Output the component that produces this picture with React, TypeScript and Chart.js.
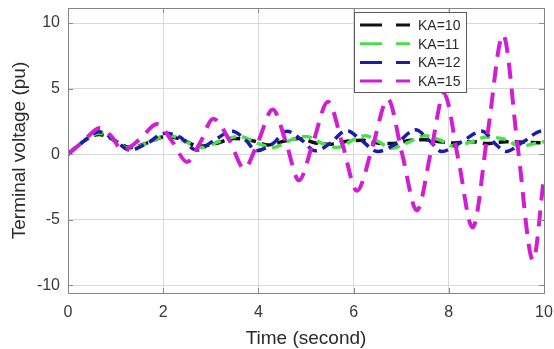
import React, { useEffect, useRef } from "react";
import { Chart, registerables } from "chart.js";
Chart.register(...registerables);

// ---- data ----
const seriesLabels = ["KA=10", "KA=11", "KA=12", "KA=15"];
const seriesColors = ["#111111", "#4cdc4c", "#1c1ca8", "#d21ed2"];

const timeKA10 = [0, 0.3, 0.65, 1.0, 1.3, 1.7, 2.05, 2.4, 2.75, 3.1, 3.5, 3.9, 4.2, 4.55, 4.85, 5.2, 5.5, 5.9, 6.2, 6.5, 6.8, 7.2, 7.5, 7.8, 8.1, 8.5, 8.8, 9.2, 9.6, 10];
const voltKA10 = [0, 0.9, 1.5, 1.0, 0.5, 0.9, 1.35, 1.1, 0.6, 0.8, 1.2, 1.0, 0.7, 1.0, 1.2, 0.85, 0.75, 1.0, 1.05, 0.85, 0.8, 1.05, 1.1, 0.95, 0.85, 0.95, 0.8, 0.95, 0.9, 0.85];

const timeKA11 = [0, 0.3, 0.65, 1.0, 1.3, 1.7, 2.1, 2.5, 2.8, 3.2, 3.6, 4.0, 4.3, 4.7, 5.0, 5.35, 5.65, 6.0, 6.25, 6.5, 6.8, 7.15, 7.5, 7.8, 8.1, 8.45, 8.8, 9.2, 9.5, 9.8, 10];
const voltKA11 = [0, 0.9, 1.6, 1.0, 0.4, 0.9, 1.45, 0.9, 0.5, 1.0, 1.35, 0.8, 0.5, 1.1, 1.35, 0.8, 0.5, 1.1, 1.4, 1.0, 0.45, 0.9, 1.4, 1.1, 0.6, 0.9, 1.3, 1.1, 0.6, 0.8, 0.95];

const timeKA12 = [0, 0.3, 0.65, 1.0, 1.3, 1.65, 2.05, 2.35, 2.7, 3.05, 3.45, 3.75, 3.95, 4.3, 4.6, 4.9, 5.2, 5.5, 5.85, 6.15, 6.5, 6.9, 7.3, 7.6, 7.85, 8.25, 8.7, 9.0, 9.2, 9.55, 9.95, 10];
const voltKA12 = [0, 0.9, 1.7, 1.0, 0.3, 0.8, 1.6, 1.3, 0.3, 1.0, 1.75, 1.0, 0.25, 0.8, 1.75, 1.1, 0.25, 0.8, 1.8, 1.1, 0.2, 0.8, 1.85, 1.0, 0.2, 0.9, 1.75, 0.7, 0.2, 0.9, 1.75, 1.7];

const timeKA15 = [0, 0.3, 0.67, 0.9, 1.15, 1.5, 1.87, 2.2, 2.5, 2.78, 3.05, 3.4, 3.7, 4.0, 4.3, 4.58, 4.85, 5.15, 5.46, 5.77, 6.07, 6.4, 6.72, 7.02, 7.33, 7.62, 7.9, 8.2, 8.5, 8.82, 9.14, 9.45, 9.77, 10];
const voltKA15 = [0, 0.9, 2.0, 1.4, 0.3, 1.1, 2.3, 0.9, -0.6, 0.9, 2.7, 1.0, -1.1, 1.0, 3.4, 0.9, -2.0, 0.9, 4.0, 0.7, -2.8, 0.6, 4.2, 0.0, -4.3, 0.1, 4.6, -0.4, -5.6, 1.7, 9.1, 0.5, -8.1, -1.7];

const xTicks = [0, 2, 4, 6, 8, 10];
const yTicks = [-10, -5, 0, 5, 10];
const xMin = 0, xMax = 10;
const yMin = -10.6, yMax = 11.15;

const FONT = "Arial, 'Liberation Sans', Helvetica, sans-serif";

const pairs = (t: number[], v: number[]) => t.map((x, i) => ({ x, y: v[i] }));

const zeroPad = (s: any) => {
  s.paddingLeft = 0; s.paddingRight = 0; s.paddingTop = 0; s.paddingBottom = 0;
};

const framePlugin = {
  id: "frame",
  afterDatasetsDraw(chart: any) {
    const { ctx, chartArea: a, scales } = chart;
    ctx.save();
    ctx.strokeStyle = "#8a8a8a";
    ctx.lineWidth = 1;
    ctx.setLineDash([]);
    ctx.beginPath();
    for (const v of xTicks) {
      const px = Math.round(scales.x.getPixelForValue(v)) + 0.5;
      ctx.moveTo(px, a.bottom); ctx.lineTo(px, a.bottom - 5);
      ctx.moveTo(px, a.top); ctx.lineTo(px, a.top + 5);
    }
    for (const v of yTicks) {
      const py = Math.round(scales.y.getPixelForValue(v)) + 0.5;
      ctx.moveTo(a.left, py); ctx.lineTo(a.left + 5, py);
      ctx.moveTo(a.right, py); ctx.lineTo(a.right - 5, py);
    }
    ctx.stroke();
    ctx.strokeStyle = "#858585";
    ctx.strokeRect(Math.round(a.left) + 0.5, Math.round(a.top) + 0.5, Math.round(a.right - a.left), Math.round(a.bottom - a.top));
    ctx.restore();
  },
  afterDraw(chart: any) {
    const { ctx } = chart;
    const bx = 354.5, by = 12.5, bw = 112, bh = 80;
    ctx.save();
    ctx.fillStyle = "#ffffff";
    ctx.fillRect(bx, by, bw, bh);
    ctx.strokeStyle = "#5a5a5a";
    ctx.lineWidth = 1;
    ctx.strokeRect(bx, by, bw, bh);
    chart.data.datasets.forEach((ds: any, i: number) => {
      const y = 25 + i * 18.7;
      ctx.strokeStyle = ds.borderColor;
      ctx.lineWidth = 3;
      ctx.setLineDash([22, 14]);
      ctx.beginPath();
      ctx.moveTo(360, y);
      ctx.lineTo(410, y);
      ctx.stroke();
      ctx.setLineDash([]);
      ctx.fillStyle = "#2a2a2a";
      ctx.font = `14px ${FONT}`;
      ctx.textBaseline = "middle";
      ctx.textAlign = "left";
      ctx.fillText(ds.label, 418, y + 1);
    });
    ctx.restore();
  },
};

export default function App() {
  const ref = useRef<HTMLCanvasElement | null>(null);
  useEffect(() => {
    if (!ref.current) return;
    const series = [
      pairs(timeKA10, voltKA10),
      pairs(timeKA11, voltKA11),
      pairs(timeKA12, voltKA12),
      pairs(timeKA15, voltKA15),
    ];
    const chart = new Chart(ref.current, {
      type: "line",
      data: {
        datasets: series.map((d, i) => ({
          label: seriesLabels[i],
          data: d,
          borderColor: seriesColors[i],
          backgroundColor: seriesColors[i],
          borderWidth: i === 3 ? 4 : 3.5,
          borderDash: i === 3 ? [16, 10] : [10, 6],
          pointRadius: 0,
          fill: false,
          cubicInterpolationMode: "monotone" as const,
          order: 4 - i,
        })),
      },
      options: {
        animation: false,
        responsive: false,
        devicePixelRatio: 1,
        layout: { padding: { left: 0, right: 10, top: 8, bottom: 0 } },
        plugins: { legend: { display: false }, tooltip: { enabled: false } },
        scales: {
          x: {
            type: "linear",
            min: xMin,
            max: xMax,
            afterBuildTicks: (s: any) => { s.ticks = xTicks.map((v) => ({ value: v })); },
            afterFit: (s: any) => { s.height = 56; zeroPad(s); },
            grid: { color: "#d9d9d9", lineWidth: 1, drawTicks: false },
            border: { display: false },
            ticks: { padding: 10, color: "#383838", font: { family: FONT, size: 16 }, maxRotation: 0 },
            title: { display: true, text: "Time (second)", color: "#2a2a2a", font: { family: FONT, size: 19, lineHeight: 1.1 }, padding: { top: 0, bottom: 0 } },
          },
          y: {
            type: "linear",
            min: yMin,
            max: yMax,
            afterBuildTicks: (s: any) => { s.ticks = yTicks.map((v) => ({ value: v })); },
            afterFit: (s: any) => { s.width = 68; zeroPad(s); },
            grid: { color: "#d9d9d9", lineWidth: 1, drawTicks: false },
            border: { display: false },
            ticks: { padding: 8, color: "#383838", font: { family: FONT, size: 16 } },
            title: { display: true, text: "Terminal voltage (pu)", color: "#2a2a2a", font: { family: FONT, size: 19 }, padding: { top: 8, bottom: 0 } },
          },
        },
      },
      plugins: [framePlugin],
    });
    return () => chart.destroy();
  }, []);
  return (
    <div style={{ position: "absolute", left: 0, top: 0, width: 554, height: 349, background: "#ffffff" }}>
      <canvas ref={ref} width={554} height={349} style={{ display: "block" }} />
    </div>
  );
}
